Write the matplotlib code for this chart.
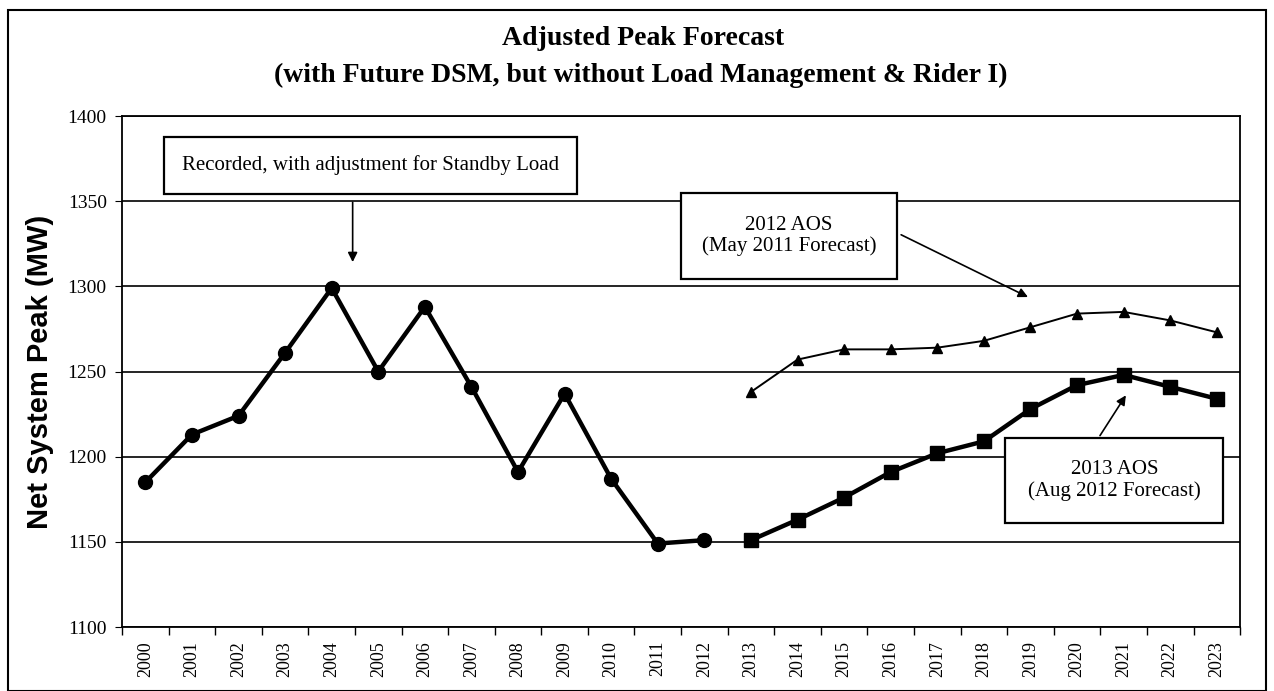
import numpy as np
import matplotlib.pyplot as plt
from matplotlib.patches import Rectangle

plt.rcParams['font.family'] = ['Liberation Serif', 'DejaVu Serif']

years = [str(y) for y in range(2000, 2024)]

# recorded peaks 2000-2012
recorded = [1185, 1213, 1224, 1261, 1299, 1250, 1288, 1241, 1191, 1237, 1187, 1149, 1151]
# 2013 AOS forecast 2013-2023
aos2013 = [1151, 1163, 1176, 1191, 1202, 1209, 1228, 1242, 1248, 1241, 1234]
# 2012 AOS forecast 2013-2023
aos2012 = [1238, 1257, 1263, 1263, 1264, 1268, 1276, 1284, 1285, 1280, 1273]

x = np.arange(len(years))

fig = plt.figure(figsize=(12.74, 6.91), dpi=100)
ax = fig.add_axes([0.0958, 0.0926, 0.8776, 0.7395])

ax.plot(x[:13], recorded, color='black', lw=3.2, marker='o', ms=10, zorder=3)
ax.plot(x[13:], aos2013, color='black', lw=3.2, marker='s', ms=10, zorder=3)
ax.plot(x[13:], aos2012, color='black', lw=1.4, marker='^', ms=7, zorder=3)

ax.set_xlim(-0.5, len(years) - 0.5)
ax.set_ylim(1100, 1400)
ax.set_yticks(np.arange(1100, 1401, 50))
ax.yaxis.grid(True, color='black', lw=1.2)
ax.set_axisbelow(True)

ax.set_xticks(x)
ax.set_xticklabels(years, rotation=90, fontsize=13)
ax.set_xticks(np.arange(-0.5, len(years), 1), minor=True)
ax.tick_params(axis='x', which='major', length=0, pad=10)
ax.tick_params(axis='x', which='minor', length=6, direction='out', width=1)
ax.tick_params(axis='y', length=5, direction='out', labelsize=14, pad=6)

for s in ax.spines.values():
    s.set_color('black')
    s.set_linewidth(1.3)

ax.set_ylabel('Net System Peak (MW)', fontsize=21, fontweight='bold',
              family=['Liberation Sans', 'DejaVu Sans'], labelpad=10)

fig.text(0.505, 0.945, 'Adjusted Peak Forecast', ha='center', va='center',
         fontsize=20, fontweight='bold')
fig.text(0.503, 0.891, '(with Future DSM, but without Load Management & Rider I)',
         ha='center', va='center', fontsize=20, fontweight='bold')


def label_box(x0, x1, y0, y1, txt):
    ax.add_patch(Rectangle((x0, y0), x1 - x0, y1 - y0, fc='white', ec='black',
                           lw=1.6, zorder=5))
    ax.text((x0 + x1) / 2, (y0 + y1) / 2, txt, ha='center', va='center',
            fontsize=15, linespacing=1.15, zorder=6)


arrow = dict(arrowstyle='-|>', color='black', lw=1.2, mutation_scale=14)

label_box(0.39, 9.27, 1354.3, 1387.7, 'Recorded, with adjustment for Standby Load')
ax.annotate('', xy=(4.45, 1312.6), xytext=(4.45, 1351), arrowprops=arrow, zorder=4)

label_box(11.49, 16.14, 1304.3, 1354.8, '2012 AOS\n(May 2011 Forecast)')
ax.annotate('', xy=(19.0, 1293), xytext=(16.17, 1331), arrowprops=arrow, zorder=4)

label_box(18.46, 23.14, 1161, 1211, '2013 AOS\n(Aug 2012 Forecast)')
ax.annotate('', xy=(21.08, 1237.4), xytext=(20.46, 1211), arrowprops=arrow, zorder=4)

fig.patches.append(Rectangle((0.006, 0.0), 0.988, 0.985, transform=fig.transFigure,
                             fill=False, ec='black', lw=1.5))

fig.savefig('out.png', dpi=100)
